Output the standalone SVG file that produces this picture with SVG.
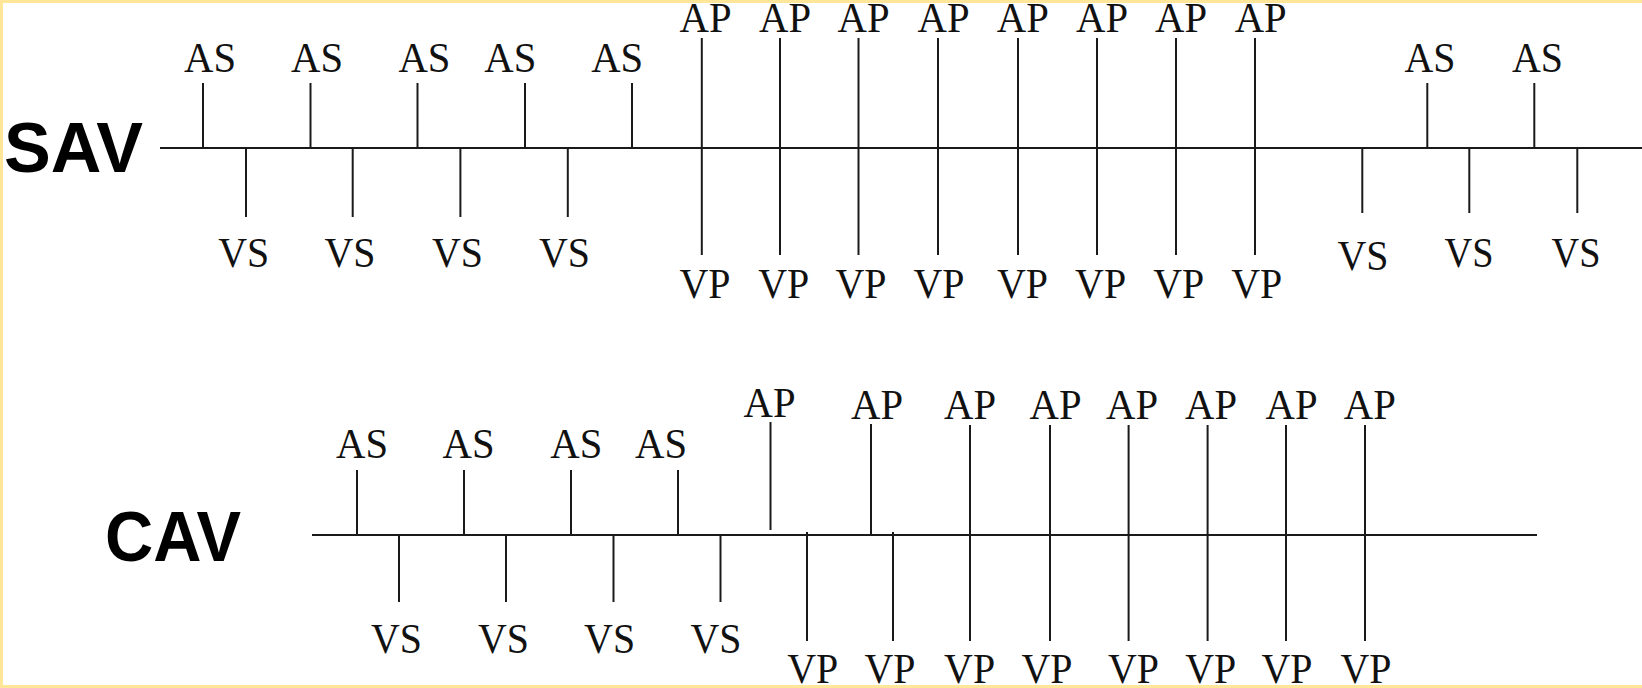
<svg xmlns="http://www.w3.org/2000/svg" width="1642" height="688" viewBox="0 0 1642 688">
<style>
.bg{fill:#ffffff}
.bd{fill:#FFE699}
.ax{stroke:#1a1a1a;stroke-width:2;fill:none}
.tk{stroke:#1a1a1a;stroke-width:2;fill:none}
.lb{font-family:"Liberation Serif","Times New Roman",serif;font-size:43px;fill:#111;text-anchor:middle}
.ttl{font-family:"Liberation Sans",Arial,sans-serif;font-weight:bold;font-size:71px;fill:#000}
</style>
<rect class="bg" x="0" y="0" width="1642" height="688"/>
<rect class="bd" x="0" y="0" width="1642" height="3"/>
<rect class="bd" x="0" y="0" width="3" height="688"/>
<rect class="bd" x="0" y="685" width="1642" height="3"/>

<g id="titles">
<text id="sav-title" class="ttl" x="4" y="172" textLength="139" lengthAdjust="spacingAndGlyphs">SAV</text>
<text id="cav-title" class="ttl" x="105" y="561" textLength="136" lengthAdjust="spacingAndGlyphs">CAV</text>
</g>

<g id="connectors">
<line class="ax" x1="160" y1="148" x2="1642" y2="148"/>
<line class="ax" x1="312" y1="535" x2="1537" y2="535"/>
</g>

<g id="sav">
<g id="sav-as1"><line class="tk" x1="203" y1="83" x2="203" y2="148"/><text class="lb" x="210" y="72" textLength="52" lengthAdjust="spacingAndGlyphs">AS</text></g>
<g id="sav-as2"><line class="tk" x1="310.5" y1="83" x2="310.5" y2="148"/><text class="lb" x="317" y="72" textLength="52" lengthAdjust="spacingAndGlyphs">AS</text></g>
<g id="sav-as3"><line class="tk" x1="417.5" y1="83" x2="417.5" y2="148"/><text class="lb" x="424.4" y="72" textLength="52" lengthAdjust="spacingAndGlyphs">AS</text></g>
<g id="sav-as4"><line class="tk" x1="525" y1="83" x2="525" y2="148"/><text class="lb" x="510.3" y="72" textLength="52" lengthAdjust="spacingAndGlyphs">AS</text></g>
<g id="sav-as5"><line class="tk" x1="632" y1="83" x2="632" y2="148"/><text class="lb" x="617.2" y="72" textLength="52" lengthAdjust="spacingAndGlyphs">AS</text></g>

<g id="sav-vs1"><line class="tk" x1="246" y1="148" x2="246" y2="217"/><text class="lb" x="243.7" y="267" textLength="51" lengthAdjust="spacingAndGlyphs">VS</text></g>
<g id="sav-vs2"><line class="tk" x1="352.7" y1="148" x2="352.7" y2="217"/><text class="lb" x="350" y="267" textLength="51" lengthAdjust="spacingAndGlyphs">VS</text></g>
<g id="sav-vs3"><line class="tk" x1="460.4" y1="148" x2="460.4" y2="217"/><text class="lb" x="457.5" y="267" textLength="51" lengthAdjust="spacingAndGlyphs">VS</text></g>
<g id="sav-vs4"><line class="tk" x1="567.8" y1="148" x2="567.8" y2="217"/><text class="lb" x="564.4" y="267" textLength="51" lengthAdjust="spacingAndGlyphs">VS</text></g>

<g id="sav-p1"><line class="tk" x1="701.8" y1="38" x2="701.8" y2="255"/><text class="lb" x="705.6" y="32" textLength="52" lengthAdjust="spacingAndGlyphs">AP</text><text class="lb" x="705" y="298" textLength="51" lengthAdjust="spacingAndGlyphs">VP</text></g>
<g id="sav-p2"><line class="tk" x1="780" y1="38" x2="780" y2="255"/><text class="lb" x="785" y="32" textLength="52" lengthAdjust="spacingAndGlyphs">AP</text><text class="lb" x="783.8" y="298" textLength="51" lengthAdjust="spacingAndGlyphs">VP</text></g>
<g id="sav-p3"><line class="tk" x1="858.5" y1="38" x2="858.5" y2="255"/><text class="lb" x="863.6" y="32" textLength="52" lengthAdjust="spacingAndGlyphs">AP</text><text class="lb" x="861" y="298" textLength="51" lengthAdjust="spacingAndGlyphs">VP</text></g>
<g id="sav-p4"><line class="tk" x1="938" y1="38" x2="938" y2="255"/><text class="lb" x="943.5" y="32" textLength="52" lengthAdjust="spacingAndGlyphs">AP</text><text class="lb" x="939" y="298" textLength="51" lengthAdjust="spacingAndGlyphs">VP</text></g>
<g id="sav-p5"><line class="tk" x1="1018" y1="38" x2="1018" y2="255"/><text class="lb" x="1022.8" y="32" textLength="52" lengthAdjust="spacingAndGlyphs">AP</text><text class="lb" x="1022.5" y="298" textLength="51" lengthAdjust="spacingAndGlyphs">VP</text></g>
<g id="sav-p6"><line class="tk" x1="1097" y1="38" x2="1097" y2="255"/><text class="lb" x="1102" y="32" textLength="52" lengthAdjust="spacingAndGlyphs">AP</text><text class="lb" x="1100.6" y="298" textLength="51" lengthAdjust="spacingAndGlyphs">VP</text></g>
<g id="sav-p7"><line class="tk" x1="1176" y1="38" x2="1176" y2="255"/><text class="lb" x="1181" y="32" textLength="52" lengthAdjust="spacingAndGlyphs">AP</text><text class="lb" x="1178.8" y="298" textLength="51" lengthAdjust="spacingAndGlyphs">VP</text></g>
<g id="sav-p8"><line class="tk" x1="1255" y1="38" x2="1255" y2="255"/><text class="lb" x="1260.7" y="32" textLength="52" lengthAdjust="spacingAndGlyphs">AP</text><text class="lb" x="1256.8" y="298" textLength="51" lengthAdjust="spacingAndGlyphs">VP</text></g>

<g id="sav-vs5"><line class="tk" x1="1362.3" y1="148" x2="1362.3" y2="213"/><text class="lb" x="1363" y="270" textLength="51" lengthAdjust="spacingAndGlyphs">VS</text></g>
<g id="sav-as6"><line class="tk" x1="1427.3" y1="83" x2="1427.3" y2="148"/><text class="lb" x="1430" y="72" textLength="51" lengthAdjust="spacingAndGlyphs">AS</text></g>
<g id="sav-vs6"><line class="tk" x1="1469.3" y1="148" x2="1469.3" y2="213"/><text class="lb" x="1469" y="267" textLength="49" lengthAdjust="spacingAndGlyphs">VS</text></g>
<g id="sav-as7"><line class="tk" x1="1534.3" y1="83" x2="1534.3" y2="148"/><text class="lb" x="1537.5" y="72" textLength="51" lengthAdjust="spacingAndGlyphs">AS</text></g>
<g id="sav-vs7"><line class="tk" x1="1577.3" y1="148" x2="1577.3" y2="213"/><text class="lb" x="1576" y="267" textLength="49" lengthAdjust="spacingAndGlyphs">VS</text></g>
</g>

<g id="cav">
<g id="cav-as1"><line class="tk" x1="357" y1="470" x2="357" y2="535"/><text class="lb" x="362" y="458" textLength="52" lengthAdjust="spacingAndGlyphs">AS</text></g>
<g id="cav-as2"><line class="tk" x1="464" y1="470" x2="464" y2="535"/><text class="lb" x="468.5" y="458" textLength="52" lengthAdjust="spacingAndGlyphs">AS</text></g>
<g id="cav-as3"><line class="tk" x1="571" y1="470" x2="571" y2="535"/><text class="lb" x="576.3" y="458" textLength="52" lengthAdjust="spacingAndGlyphs">AS</text></g>
<g id="cav-as4"><line class="tk" x1="678" y1="470" x2="678" y2="535"/><text class="lb" x="661" y="458" textLength="52" lengthAdjust="spacingAndGlyphs">AS</text></g>

<g id="cav-vs1"><line class="tk" x1="399" y1="535" x2="399" y2="602"/><text class="lb" x="396.5" y="653" textLength="51" lengthAdjust="spacingAndGlyphs">VS</text></g>
<g id="cav-vs2"><line class="tk" x1="506" y1="535" x2="506" y2="602"/><text class="lb" x="503.4" y="653" textLength="51" lengthAdjust="spacingAndGlyphs">VS</text></g>
<g id="cav-vs3"><line class="tk" x1="613.5" y1="535" x2="613.5" y2="602"/><text class="lb" x="609.6" y="653" textLength="51" lengthAdjust="spacingAndGlyphs">VS</text></g>
<g id="cav-vs4"><line class="tk" x1="720.5" y1="535" x2="720.5" y2="602"/><text class="lb" x="716" y="653" textLength="51" lengthAdjust="spacingAndGlyphs">VS</text></g>

<g id="cav-ap1"><line class="tk" x1="770.5" y1="422" x2="770.5" y2="530"/><text class="lb" x="769.5" y="417" textLength="52" lengthAdjust="spacingAndGlyphs">AP</text></g>
<g id="cav-vp1"><line class="tk" x1="807" y1="532" x2="807" y2="641"/><text class="lb" x="812.7" y="683" textLength="51" lengthAdjust="spacingAndGlyphs">VP</text></g>
<g id="cav-ap2"><line class="tk" x1="871" y1="424" x2="871" y2="535"/><text class="lb" x="877" y="419" textLength="52" lengthAdjust="spacingAndGlyphs">AP</text></g>
<g id="cav-vp2"><line class="tk" x1="893" y1="532" x2="893" y2="641"/><text class="lb" x="890" y="683" textLength="51" lengthAdjust="spacingAndGlyphs">VP</text></g>

<g id="cav-p3"><line class="tk" x1="970" y1="425" x2="970" y2="641"/><text class="lb" x="970" y="419" textLength="52" lengthAdjust="spacingAndGlyphs">AP</text><text class="lb" x="969.6" y="683" textLength="51" lengthAdjust="spacingAndGlyphs">VP</text></g>
<g id="cav-p4"><line class="tk" x1="1050" y1="425" x2="1050" y2="641"/><text class="lb" x="1055.6" y="419" textLength="52" lengthAdjust="spacingAndGlyphs">AP</text><text class="lb" x="1047" y="683" textLength="51" lengthAdjust="spacingAndGlyphs">VP</text></g>
<g id="cav-p5"><line class="tk" x1="1128.6" y1="425" x2="1128.6" y2="641"/><text class="lb" x="1132" y="419" textLength="52" lengthAdjust="spacingAndGlyphs">AP</text><text class="lb" x="1133.5" y="683" textLength="51" lengthAdjust="spacingAndGlyphs">VP</text></g>
<g id="cav-p6"><line class="tk" x1="1207.6" y1="425" x2="1207.6" y2="641"/><text class="lb" x="1211" y="419" textLength="52" lengthAdjust="spacingAndGlyphs">AP</text><text class="lb" x="1210.7" y="683" textLength="51" lengthAdjust="spacingAndGlyphs">VP</text></g>
<g id="cav-p7"><line class="tk" x1="1286" y1="425" x2="1286" y2="641"/><text class="lb" x="1291.5" y="419" textLength="52" lengthAdjust="spacingAndGlyphs">AP</text><text class="lb" x="1287" y="683" textLength="51" lengthAdjust="spacingAndGlyphs">VP</text></g>
<g id="cav-p8"><line class="tk" x1="1365" y1="425" x2="1365" y2="641"/><text class="lb" x="1369.8" y="419" textLength="52" lengthAdjust="spacingAndGlyphs">AP</text><text class="lb" x="1366" y="683" textLength="51" lengthAdjust="spacingAndGlyphs">VP</text></g>
</g>
</svg>
